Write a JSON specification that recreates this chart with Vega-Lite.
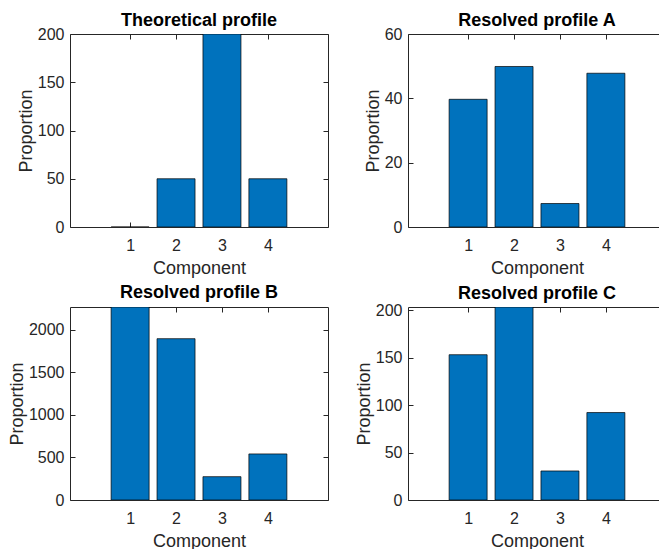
{
  "$schema": "https://vega.github.io/schema/vega-lite/v6.json",
  "padding": {"left": 7, "top": 11, "right": 0, "bottom": 0},
  "bounds": "flush",
  "spacing": 80,
  "columns": 2,
  "background": "white",
  "datasets": {
    "profiles": [
      {"panel": "T", "component": 1, "value": 0},
      {"panel": "T", "component": 2, "value": 50},
      {"panel": "T", "component": 3, "value": 200},
      {"panel": "T", "component": 4, "value": 50},
      {"panel": "A", "component": 1, "value": 39.7},
      {"panel": "A", "component": 2, "value": 49.9},
      {"panel": "A", "component": 3, "value": 7.3},
      {"panel": "A", "component": 4, "value": 47.8},
      {"panel": "B", "component": 1, "value": 2266},
      {"panel": "B", "component": 2, "value": 1894},
      {"panel": "B", "component": 3, "value": 274},
      {"panel": "B", "component": 4, "value": 541},
      {"panel": "C", "component": 1, "value": 153.2},
      {"panel": "C", "component": 2, "value": 203.5},
      {"panel": "C", "component": 3, "value": 30.6},
      {"panel": "C", "component": 4, "value": 92.2}
    ]
  },
  "concat": [
    {
      "width": 258, "height": 193,
      "title": {"text": "Theoretical profile", "offset": -4},
      "data": {"name": "profiles"},
      "transform": [{"filter": "datum.panel == 'T'"}],
      "layer": [
        {"mark": {"type": "bar", "width": 38, "fill": "#0072BD", "stroke": "#000000", "strokeWidth": 0.7, "clip": true},
         "encoding": {
           "x": {"field": "component", "type": "quantitative", "scale": {"domain": [-0.2, 5.2], "nice": false, "zero": false}, "axis": {"values": [1, 2, 3, 4], "format": "d", "title": "Component"}},
           "y": {"field": "value", "type": "quantitative", "scale": {"domain": [0, 200], "nice": false}, "axis": {"values": [0, 50, 100, 150, 200], "format": "d", "title": "Proportion"}}
         }},
        {"mark": {"type": "bar", "opacity": 0, "clip": true},
         "encoding": {
           "x": {"field": "component", "type": "quantitative", "axis": {"orient": "top", "values": [1, 2, 3, 4], "labels": false, "labelPadding": 0, "title": null}},
           "y": {"field": "value", "type": "quantitative", "axis": {"orient": "right", "values": [0, 50, 100, 150, 200], "labels": false, "labelPadding": 0, "title": null}}
         }}
      ],
      "resolve": {"axis": {"x": "independent", "y": "independent"}}
    },
    {
      "width": 258, "height": 193,
      "title": {"text": "Resolved profile A", "offset": -4},
      "data": {"name": "profiles"},
      "transform": [{"filter": "datum.panel == 'A'"}],
      "layer": [
        {"mark": {"type": "bar", "width": 38, "fill": "#0072BD", "stroke": "#000000", "strokeWidth": 0.7, "clip": true},
         "encoding": {
           "x": {"field": "component", "type": "quantitative", "scale": {"domain": [-0.2, 5.2], "nice": false, "zero": false}, "axis": {"values": [1, 2, 3, 4], "format": "d", "title": "Component"}},
           "y": {"field": "value", "type": "quantitative", "scale": {"domain": [0, 60], "nice": false}, "axis": {"values": [0, 20, 40, 60], "format": "d", "title": "Proportion"}}
         }},
        {"mark": {"type": "bar", "opacity": 0, "clip": true},
         "encoding": {
           "x": {"field": "component", "type": "quantitative", "axis": {"orient": "top", "values": [1, 2, 3, 4], "labels": false, "labelPadding": 0, "title": null}},
           "y": {"field": "value", "type": "quantitative", "axis": {"orient": "right", "values": [0, 20, 40, 60], "labels": false, "labelPadding": 0, "title": null}}
         }}
      ],
      "resolve": {"axis": {"x": "independent", "y": "independent"}}
    },
    {
      "width": 258, "height": 193,
      "title": {"text": "Resolved profile B", "offset": 5},
      "data": {"name": "profiles"},
      "transform": [{"filter": "datum.panel == 'B'"}],
      "layer": [
        {"mark": {"type": "bar", "width": 38, "fill": "#0072BD", "stroke": "#000000", "strokeWidth": 0.7, "clip": true},
         "encoding": {
           "x": {"field": "component", "type": "quantitative", "scale": {"domain": [-0.2, 5.2], "nice": false, "zero": false}, "axis": {"values": [1, 2, 3, 4], "format": "d", "title": "Component"}},
           "y": {"field": "value", "type": "quantitative", "scale": {"domain": [0, 2266], "nice": false}, "axis": {"values": [0, 500, 1000, 1500, 2000], "format": "d", "title": "Proportion"}}
         }},
        {"mark": {"type": "bar", "opacity": 0, "clip": true},
         "encoding": {
           "x": {"field": "component", "type": "quantitative", "axis": {"orient": "top", "values": [1, 2, 3, 4], "labels": false, "labelPadding": 0, "title": null}},
           "y": {"field": "value", "type": "quantitative", "axis": {"orient": "right", "values": [0, 500, 1000, 1500, 2000], "labels": false, "labelPadding": 0, "title": null}}
         }}
      ],
      "resolve": {"axis": {"x": "independent", "y": "independent"}}
    },
    {
      "width": 258, "height": 193,
      "title": {"text": "Resolved profile C", "offset": -1},
      "data": {"name": "profiles"},
      "transform": [{"filter": "datum.panel == 'C'"}],
      "layer": [
        {"mark": {"type": "bar", "width": 38, "fill": "#0072BD", "stroke": "#000000", "strokeWidth": 0.7, "clip": true},
         "encoding": {
           "x": {"field": "component", "type": "quantitative", "scale": {"domain": [-0.2, 5.2], "nice": false, "zero": false}, "axis": {"values": [1, 2, 3, 4], "format": "d", "title": "Component"}},
           "y": {"field": "value", "type": "quantitative", "scale": {"domain": [0, 203.5], "nice": false}, "axis": {"values": [0, 50, 100, 150, 200], "format": "d", "title": "Proportion"}}
         }},
        {"mark": {"type": "bar", "opacity": 0, "clip": true},
         "encoding": {
           "x": {"field": "component", "type": "quantitative", "axis": {"orient": "top", "values": [1, 2, 3, 4], "labels": false, "labelPadding": 0, "title": null}},
           "y": {"field": "value", "type": "quantitative", "axis": {"orient": "right", "values": [0, 50, 100, 150, 200], "labels": false, "labelPadding": 0, "title": null}}
         }}
      ],
      "resolve": {"axis": {"x": "independent", "y": "independent"}}
    }
  ],
  "config": {
    "font": "Liberation Sans",
    "view": {"stroke": "#262626", "strokeWidth": 1},
    "axis": {
      "domain": false,
      "grid": false,
      "tickColor": "#262626",
      "tickSize": -5,
      "tickWidth": 1,
      "labelFont": "Liberation Sans",
      "labelFontSize": 16,
      "labelColor": "#262626",
      "titleFont": "Liberation Sans",
      "titleFontSize": 18,
      "titleFontWeight": "normal",
      "titleColor": "#262626"
    },
    "axisX": {"labelPadding": 15, "titlePadding": 6},
    "axisY": {"labelPadding": 11, "titlePadding": 2},
    "title": {
      "font": "Liberation Sans",
      "fontSize": 18,
      "fontWeight": "bold",
      "color": "#000000"
    }
  }
}
